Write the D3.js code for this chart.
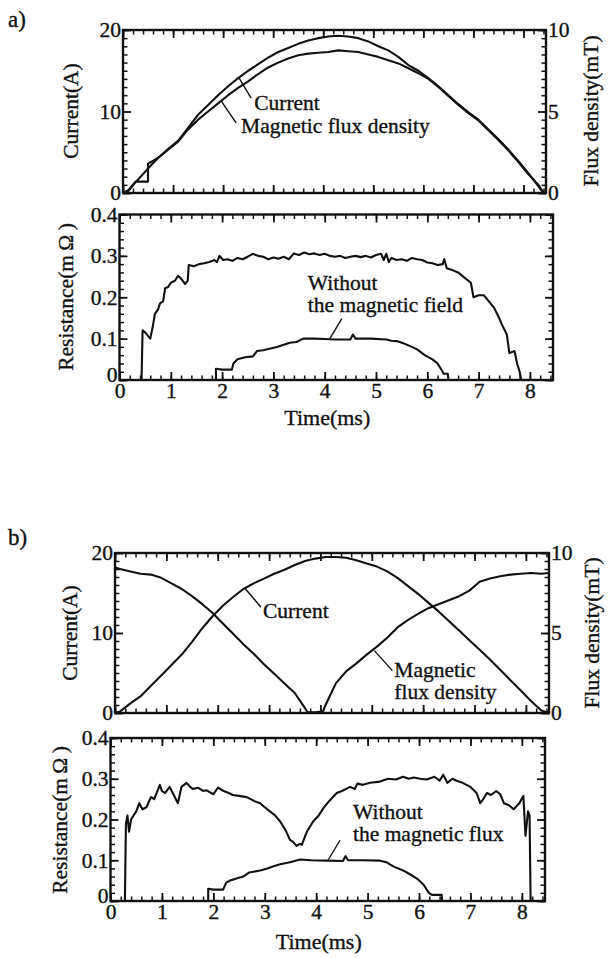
<!DOCTYPE html>
<html>
<head>
<meta charset="utf-8">
<script src="https://cdn.jsdelivr.net/npm/d3@7"></script>
<style>
  body { margin: 0; background: #fff; }
  svg text { font-family: "Liberation Serif", "DejaVu Serif", Times, serif; fill: #111; stroke: #111; stroke-width: 0.35; }
</style>
</head>
<body>
<script>
// ---- data ----
// panel a) upper plot, current (A) and flux density (mT) vs time (ms)
const timeA = [0, 0.1, 0.25, 0.5, 0.5, 0.7, 0.9, 1.1, 1.3, 1.5, 1.7, 1.9, 2.1, 2.3, 2.5, 2.7, 2.9, 3.1, 3.3, 3.5, 3.7, 3.9, 4.1, 4.3, 4.5, 4.7, 4.9, 5.1, 5.3, 5.5, 5.7, 5.9, 6.1, 6.3, 6.5, 6.7, 6.9, 7.1, 7.3, 7.5, 7.7, 7.9, 8.1, 8.3, 8.4];
const currentA = [0, 0.2, 1.3, 3.0, 3.0, 4.3, 5.4, 6.4, 8.0, 9.6, 10.8, 12.0, 13.1, 14.1, 15.0, 15.8, 16.6, 17.3, 17.8, 18.3, 18.7, 19.0, 19.2, 19.3, 19.2, 19.0, 18.6, 18.0, 17.5, 16.7, 15.7, 15.0, 14.1, 13.1, 12.0, 10.9, 9.9, 9.0, 7.8, 6.6, 5.3, 3.9, 2.4, 0.8, 0];
const fluxA = [0, 0.15, 0.7, 0.7, 1.8, 2.15, 2.65, 3.15, 3.9, 4.5, 5.0, 5.5, 6.0, 6.45, 6.85, 7.3, 7.7, 8.0, 8.25, 8.45, 8.55, 8.6, 8.65, 8.75, 8.7, 8.65, 8.5, 8.35, 8.15, 7.95, 7.65, 7.35, 7.0, 6.5, 5.95, 5.4, 4.9, 4.45, 3.85, 3.25, 2.6, 1.9, 1.15, 0.5, 0];

// panel a) lower plot, resistance (mOhm) with and without the magnetic field
const resFieldT = [0, 0.43, 0.45, 0.5, 0.6, 0.65, 0.69, 0.75, 0.79, 0.85, 0.89, 0.95, 1.0, 1.08, 1.14, 1.2, 1.28, 1.33, 1.35, 1.45, 1.55, 1.65, 1.75, 1.85, 1.9, 1.95, 2.02, 2.1, 2.2, 2.3, 2.4, 2.5, 2.6, 2.7, 2.8, 2.9, 3.0, 3.1, 3.2, 3.3, 3.4, 3.5, 3.6, 3.7, 3.8, 3.9, 4.0, 4.1, 4.2, 4.3, 4.4, 4.5, 4.6, 4.7, 4.8, 4.9, 5.0, 5.1, 5.15, 5.2, 5.25, 5.3, 5.4, 5.5, 5.6, 5.7, 5.8, 5.9, 6.0, 6.1, 6.2, 6.3, 6.33, 6.38, 6.5, 6.6, 6.7, 6.8, 6.85, 6.9, 7.0, 7.1, 7.2, 7.3, 7.4, 7.45, 7.55, 7.6, 7.7, 7.75, 7.8, 7.83, 8.45];
const resFieldR = [0, 0, 0.12, 0.115, 0.1, 0.13, 0.16, 0.17, 0.185, 0.19, 0.222, 0.225, 0.235, 0.24, 0.252, 0.245, 0.232, 0.24, 0.278, 0.275, 0.28, 0.282, 0.285, 0.29, 0.285, 0.3, 0.29, 0.292, 0.288, 0.295, 0.292, 0.298, 0.305, 0.3, 0.298, 0.292, 0.296, 0.293, 0.298, 0.292, 0.306, 0.302, 0.308, 0.304, 0.306, 0.302, 0.305, 0.3, 0.298, 0.3, 0.295, 0.298, 0.3, 0.297, 0.3, 0.296, 0.302, 0.305, 0.29, 0.305, 0.285, 0.295, 0.29, 0.292, 0.288, 0.295, 0.292, 0.29, 0.284, 0.282, 0.278, 0.28, 0.292, 0.27, 0.265, 0.26, 0.25, 0.24, 0.235, 0.2, 0.205, 0.205, 0.19, 0.175, 0.15, 0.135, 0.11, 0.065, 0.07, 0.04, 0.02, 0, 0];
const resNoFieldT = [0, 1.88, 1.88, 2.0, 2.19, 2.22, 2.3, 2.45, 2.6, 2.68, 2.8, 2.9, 3.07, 3.2, 3.32, 3.45, 3.58, 3.8, 4.0, 4.2, 4.5, 4.55, 4.6, 4.9, 5.2, 5.3, 5.4, 5.55, 5.7, 5.8, 5.95, 6.1, 6.2, 6.3, 6.32, 6.4, 6.41, 8.45];
const resNoFieldR = [0, 0, 0.027, 0.025, 0.025, 0.04, 0.05, 0.055, 0.057, 0.07, 0.072, 0.075, 0.08, 0.085, 0.09, 0.092, 0.1, 0.1, 0.099, 0.098, 0.098, 0.11, 0.1, 0.1, 0.098, 0.095, 0.094, 0.088, 0.08, 0.074, 0.06, 0.05, 0.04, 0.02, 0.015, 0.015, 0, 0];

// panel b) upper plot
const timeB = [0, 0.1, 0.3, 0.5, 0.7, 0.9, 1.1, 1.3, 1.5, 1.7, 1.9, 2.1, 2.3, 2.5, 2.7, 2.9, 3.1, 3.3, 3.5, 3.7, 3.9, 4.1, 4.3, 4.5, 4.7, 4.9, 5.1, 5.3, 5.5, 5.7, 5.9, 6.1, 6.3, 6.5, 6.7, 6.9, 7.1, 7.3, 7.5, 7.7, 7.9, 8.1, 8.3, 8.45];
const currentB = [0, 0.2, 1.2, 2.1, 3.4, 4.7, 6.0, 7.3, 8.9, 10.6, 12.1, 13.4, 14.5, 15.5, 16.2, 16.8, 17.4, 17.9, 18.5, 19.0, 19.3, 19.5, 19.5, 19.4, 19.1, 18.7, 18.3, 17.7, 16.9, 15.9, 14.9, 13.8, 12.7, 11.5, 10.3, 9.1, 7.9, 6.7, 5.4, 4.1, 2.8, 1.5, 0.3, 0];
const fluxBT = [0, 0.1, 0.3, 0.5, 0.7, 0.9, 1.1, 1.3, 1.5, 1.7, 1.9, 2.1, 2.3, 2.5, 2.7, 2.9, 3.1, 3.3, 3.5, 3.7, 3.75, 3.9, 4.05, 4.1, 4.3, 4.5, 4.7, 4.9, 5.1, 5.3, 5.5, 5.7, 5.9, 6.1, 6.3, 6.5, 6.7, 6.9, 7.1, 7.3, 7.5, 7.7, 7.9, 8.1, 8.3, 8.45];
const fluxB = [9.1, 9.0, 8.85, 8.7, 8.65, 8.45, 8.1, 7.75, 7.3, 6.8, 6.25, 5.6, 4.95, 4.3, 3.7, 3.05, 2.45, 1.85, 1.25, 0.3, 0.05, 0.05, 0.1, 0.5, 1.85, 2.6, 3.1, 3.65, 4.15, 4.7, 5.35, 5.8, 6.2, 6.55, 6.8, 7.05, 7.3, 7.65, 8.2, 8.4, 8.55, 8.65, 8.7, 8.75, 8.7, 8.75];

// panel b) lower plot
const resFluxT = [0, 0.28, 0.3, 0.33, 0.36, 0.4, 0.5, 0.56, 0.62, 0.7, 0.75, 0.79, 0.85, 0.96, 1.0, 1.06, 1.15, 1.25, 1.31, 1.38, 1.48, 1.55, 1.6, 1.7, 1.8, 1.86, 2.0, 2.09, 2.2, 2.3, 2.38, 2.5, 2.65, 2.8, 2.91, 3.0, 3.1, 3.2, 3.3, 3.4, 3.49, 3.55, 3.62, 3.68, 3.72, 3.82, 3.94, 4.05, 4.14, 4.25, 4.4, 4.5, 4.66, 4.75, 4.8, 4.91, 5.05, 5.24, 5.4, 5.55, 5.69, 5.8, 5.9, 6.02, 6.15, 6.3, 6.4, 6.47, 6.55, 6.65, 6.73, 6.85, 7.0, 7.12, 7.19, 7.25, 7.32, 7.4, 7.5, 7.58, 7.65, 7.75, 7.84, 7.95, 8.03, 8.07, 8.12, 8.15, 8.17, 8.45];
const resFluxR = [0, 0, 0.19, 0.21, 0.17, 0.2, 0.22, 0.24, 0.225, 0.23, 0.245, 0.255, 0.25, 0.285, 0.27, 0.265, 0.28, 0.255, 0.24, 0.28, 0.29, 0.28, 0.275, 0.278, 0.27, 0.272, 0.262, 0.278, 0.27, 0.265, 0.26, 0.258, 0.255, 0.245, 0.24, 0.23, 0.22, 0.21, 0.195, 0.175, 0.15, 0.145, 0.135, 0.14, 0.138, 0.17, 0.195, 0.21, 0.228, 0.245, 0.265, 0.27, 0.28, 0.275, 0.288, 0.285, 0.29, 0.293, 0.3, 0.298, 0.305, 0.3, 0.303, 0.3, 0.298, 0.305, 0.295, 0.31, 0.29, 0.3, 0.295, 0.29, 0.28, 0.265, 0.24, 0.25, 0.265, 0.26, 0.27, 0.262, 0.24, 0.235, 0.225, 0.24, 0.258, 0.16, 0.22, 0.21, 0, 0];
const resNoFluxT = [0, 1.9, 1.9, 2.0, 2.19, 2.25, 2.32, 2.45, 2.58, 2.7, 2.91, 3.05, 3.17, 3.3, 3.49, 3.69, 3.9, 4.2, 4.52, 4.57, 4.62, 4.9, 5.24, 5.37, 5.5, 5.69, 5.83, 5.96, 6.09, 6.19, 6.25, 6.44, 6.45, 8.45];
const resNoFluxR = [0, 0, 0.03, 0.028, 0.028, 0.045, 0.05, 0.055, 0.06, 0.07, 0.075, 0.08, 0.085, 0.09, 0.095, 0.102, 0.1, 0.099, 0.098, 0.11, 0.1, 0.1, 0.099, 0.095, 0.085, 0.075, 0.065, 0.055, 0.04, 0.02, 0.015, 0.015, 0, 0];

// axis ticks
const T_MAX = 8.45;
const timeMajor = [0, 1, 2, 3, 4, 5, 6, 7, 8];
const timeMinor = d3.range(0, 43).map(i => i * 0.2);
const currentMajor = [0, 10, 20];
const currentMinor = d3.range(0, 21);
const fluxMajor = [0, 5, 10];
const fluxMinor = d3.range(0, 21).map(i => i * 0.5);
const resMajor = [0, 0.1, 0.2, 0.3, 0.4];
const resMinor = d3.range(0, 21).map(i => i * 0.02);

const FONT = '"Liberation Serif", "DejaVu Serif", Times, serif';
const FONT_SIZE = 21.5;
const LINE_GAP = 22;
const INK = "#111";

const svg = d3.select("body").append("svg")
  .attr("width", 609)
  .attr("height", 958)
  .attr("font-family", FONT);

// Draw inward ticks on all four sides plus the frame.
function drawAxes(box, x, y, opt) {
  const g = svg.append("g");
  const put = (axis, tx, ty, width) => {
    const s = g.append("g").attr("transform", `translate(${tx},${ty})`).call(axis);
    s.attr("font-family", FONT).attr("font-size", FONT_SIZE);
    s.select(".domain").remove();
    s.selectAll("line").attr("stroke", INK).attr("stroke-width", width);
    s.selectAll("text").attr("fill", INK);
    return s;
  };
  const none = () => "";
  put(d3.axisBottom(x).tickValues(timeMinor).tickSize(-4.5).tickFormat(none), 0, box.b, 1.5);
  put(d3.axisBottom(x).tickValues(timeMajor).tickSize(-8).tickPadding(3)
    .tickFormat(opt.xLabels ? d3.format("d") : none), 0, box.b, 1.8);
  put(d3.axisTop(x).tickValues(timeMinor).tickSize(-4.5).tickFormat(none), 0, box.t, 1.5);
  put(d3.axisTop(x).tickValues(timeMajor).tickSize(-8).tickFormat(none), 0, box.t, 1.8);
  put(d3.axisLeft(y).tickValues(opt.yMinor).tickSize(-4.5).tickFormat(none), box.l, 0, 1.5);
  const left = put(d3.axisLeft(y).tickValues(opt.yMajor).tickSize(-8).tickPadding(2)
    .tickFormat(opt.yFmt), box.l, 0, 1.8);
  // the zero in the corner sits a little higher, clear of the time axis zero
  if (opt.xLabels) left.selectAll("text").filter(d => d === 0).attr("dy", "0.05em");
  const yr = opt.y2 || y;
  put(d3.axisRight(yr).tickValues(opt.y2Minor || opt.yMinor).tickSize(-4.5).tickFormat(none), box.r, 0, 1.5);
  put(d3.axisRight(yr).tickValues(opt.y2Major || opt.yMajor).tickSize(-8).tickPadding(2)
    .tickFormat(opt.y2 ? d3.format("d") : none), box.r, 0, 1.8);
  g.append("rect")
    .attr("x", box.l).attr("y", box.t)
    .attr("width", box.r - box.l).attr("height", box.b - box.t)
    .attr("fill", "none").attr("stroke", INK).attr("stroke-width", 2.4);
  return g;
}

function drawTrace(x, y, ts, vs) {
  const line = d3.line().x(d => x(d[0])).y(d => y(d[1]));
  svg.append("path")
    .datum(d3.zip(ts, vs))
    .attr("d", line)
    .attr("fill", "none")
    .attr("stroke", INK)
    .attr("stroke-width", 2.1)
    .attr("stroke-linejoin", "round");
}

// pointer line from a data point plus the text block it labels
function annotate(x, y, t, v, lineEnd, textPos, lines) {
  const px = x(t), py = y(v);
  svg.append("line")
    .attr("x1", px).attr("y1", py)
    .attr("x2", px + lineEnd[0]).attr("y2", py + lineEnd[1])
    .attr("stroke", INK).attr("stroke-width", 1.4);
  lines.forEach((s, i) => {
    svg.append("text")
      .attr("x", px + textPos[0]).attr("y", py + textPos[1] + i * LINE_GAP)
      .attr("font-size", FONT_SIZE)
      .text(s);
  });
}

function verticalLabel(xPos, yPos, s) {
  svg.append("text")
    .attr("transform", `translate(${xPos},${yPos}) rotate(-90)`)
    .attr("text-anchor", "middle")
    .attr("font-size", FONT_SIZE)
    .text(s);
}

// ---------- panel a) ----------
svg.append("text").attr("x", 8).attr("y", 27).attr("font-size", 23).text("a)");

const boxA1 = { l: 123, t: 30, r: 546, b: 193 };
const xA1 = d3.scaleLinear().domain([0, T_MAX]).range([boxA1.l, boxA1.r]);
const yA1 = d3.scaleLinear().domain([0, 20]).range([boxA1.b, boxA1.t]);
const yA1f = d3.scaleLinear().domain([0, 10]).range([boxA1.b, boxA1.t]);
drawAxes(boxA1, xA1, yA1, {
  yMajor: currentMajor, yMinor: currentMinor, yFmt: d3.format("d"),
  y2: yA1f, y2Major: fluxMajor, y2Minor: fluxMinor
});
drawTrace(xA1, yA1, timeA, currentA);
drawTrace(xA1, yA1f, timeA, fluxA);
annotate(xA1, yA1, 2.32, 14.1, [12, 20], [15, 32], ["Current"]);
annotate(xA1, yA1f, 1.96, 5.65, [15, 22], [20, 32], ["Magnetic flux density"]);
verticalLabel(78, 111, "Current(A)");
verticalLabel(598, 111, "Flux density(mT)");

const boxA2 = { l: 119.5, t: 214.5, r: 553, b: 380 };
const xA2 = d3.scaleLinear().domain([0, T_MAX]).range([boxA2.l, boxA2.r]);
const yA2 = d3.scaleLinear().domain([0, 0.4]).range([boxA2.b, boxA2.t]);
drawAxes(boxA2, xA2, yA2, {
  xLabels: true, yMajor: resMajor, yMinor: resMinor, yFmt: d3.format("~g")
});
drawTrace(xA2, yA2, resFieldT, resFieldR);
drawTrace(xA2, yA2, resNoFieldT, resNoFieldR);
annotate(xA2, yA2, 4.1, 0.1, [12, -20], [-22, -49], ["Without", "the magnetic field"]);
verticalLabel(73, 297, "Resistance(m\u2009\u03a9\u2009)");
svg.append("text").attr("x", xA2(4.05)).attr("y", 425)
  .attr("text-anchor", "middle").attr("font-size", 22).text("Time(ms)");

// ---------- panel b) ----------
svg.append("text").attr("x", 8).attr("y", 545).attr("font-size", 23).text("b)");

const boxB1 = { l: 115, t: 553, r: 549, b: 713 };
const xB1 = d3.scaleLinear().domain([0, T_MAX]).range([boxB1.l, boxB1.r]);
const yB1 = d3.scaleLinear().domain([0, 20]).range([boxB1.b, boxB1.t]);
const yB1f = d3.scaleLinear().domain([0, 10]).range([boxB1.b, boxB1.t]);
drawAxes(boxB1, xB1, yB1, {
  yMajor: currentMajor, yMinor: currentMinor, yFmt: d3.format("d"),
  y2: yB1f, y2Major: fluxMajor, y2Minor: fluxMinor
});
drawTrace(xB1, yB1, timeB, currentB);
drawTrace(xB1, yB1f, fluxBT, fluxB);
annotate(xB1, yB1, 2.53, 15.6, [16, 19], [18, 30], ["Current"]);
annotate(xB1, yB1f, 5.05, 3.9, [18, 20], [20, 26], ["Magnetic", "flux density"]);
verticalLabel(77, 633, "Current(A)");
verticalLabel(599, 633, "Flux density(mT)");

const boxB2 = { l: 110.5, t: 738, r: 545, b: 901 };
const xB2 = d3.scaleLinear().domain([0, T_MAX]).range([boxB2.l, boxB2.r]);
const yB2 = d3.scaleLinear().domain([0, 0.4]).range([boxB2.b, boxB2.t]);
drawAxes(boxB2, xB2, yB2, {
  xLabels: true, yMajor: resMajor, yMinor: resMinor, yFmt: d3.format("~g")
});
drawTrace(xB2, yB2, resFluxT, resFluxR);
drawTrace(xB2, yB2, resNoFluxT, resNoFluxR);
annotate(xB2, yB2, 4.23, 0.1, [12, -20], [25, -41], ["Without", "the magnetic flux"]);
verticalLabel(67, 820, "Resistance(m\u2009\u03a9\u2009)");
svg.append("text").attr("x", xB2(4.05)).attr("y", 949)
  .attr("text-anchor", "middle").attr("font-size", 22).text("Time(ms)");
</script>
</body>
</html>
